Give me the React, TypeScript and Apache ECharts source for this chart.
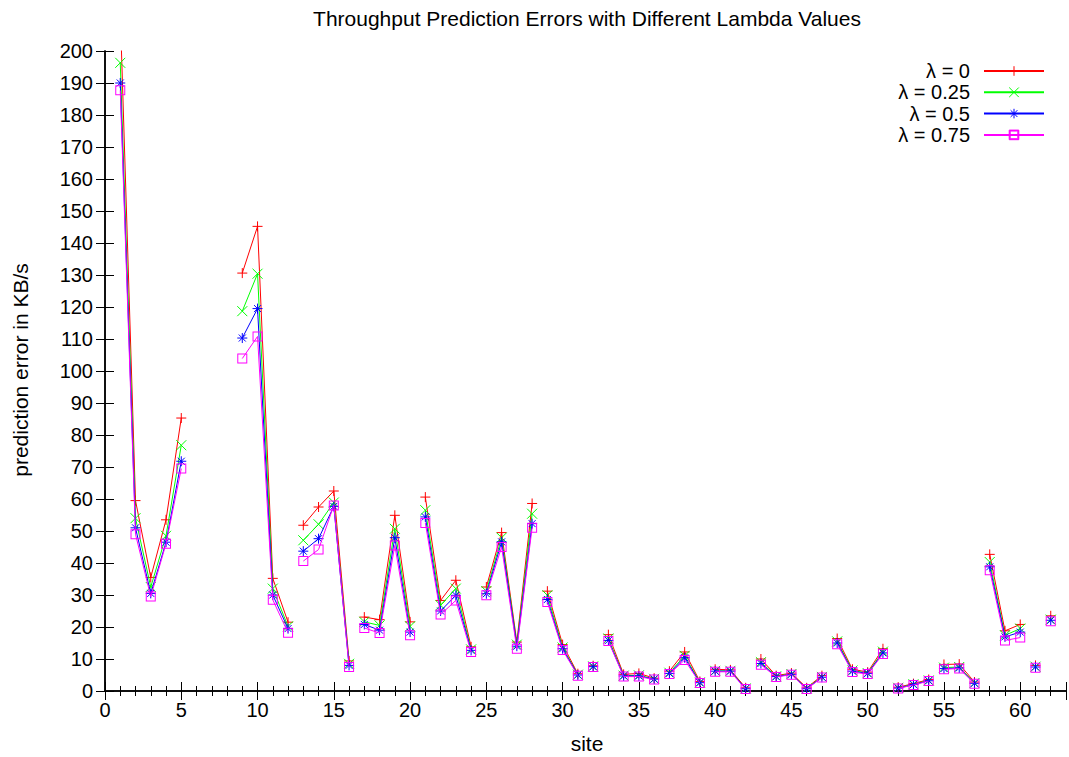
import React, { useEffect, useRef } from 'react';
import * as echarts from 'echarts';

const sites: number[] = Array.from({ length: 62 }, (_, i) => i + 1);

// prediction error (KB/s) per site, null = no measurement
const lambda0: (number | null)[] = [
  212, 59.5, 35.5, 53.5, 85.3, null, null, null, 130.6, 145.2,
  35.2, 21.5, 51.8, 57.5, 62.5, 9.4, 23.1, 22.3, 54.9, 21.6,
  60.6, 28.3, 34.6, 13.8, 32.5, 49.5, 15.3, 58.6, 31.2, 14.5,
  5.4, 7.9, 17.6, 5.2, 5.5, 4.0, 6.2, 12.2, 3.0, 6.8,
  6.6, 1.0, 10.0, 4.8, 5.6, 1.0, 4.8, 16.4, 6.8, 5.9,
  13.2, 1.2, 2.3, 3.6, 8.3, 8.4, 2.8, 42.7, 18.8, 20.8,
  8.0, 23.5,
];
const lambda025: (number | null)[] = [
  196.3, 54, 32.5, 48.5, 76.8, null, null, null, 118.7, 130.4,
  32, 20.2, 47.1, 52.1, 58.9, 8.5, 21.6, 20.5, 50.7, 20.2,
  56.5, 26.8, 32, 13, 31.2, 47.9, 14.5, 55.4, 29.9, 13.6,
  5.1, 7.7, 16.4, 4.8, 4.9, 3.8, 5.7, 11, 2.7, 6.3,
  6.3, 0.8, 9, 4.6, 5.3, 0.8, 4.4, 15.5, 6.4, 5.6,
  12.3, 1, 2.1, 3.3, 7.3, 7.5, 2.5, 40.3, 17.4, 19.5,
  7.6, 22.3,
];
const lambda05: (number | null)[] = [
  190, 51, 30.5, 46.5, 71.8, null, null, null, 110.3, 119.5,
  30, 19.5, 43.7, 47.6, 57.7, 8, 20.8, 19, 47.9, 18.4,
  54.4, 25, 29.9, 12.7, 30.4, 46.6, 14, 52.3, 28.6, 13.2,
  5, 7.6, 15.8, 4.7, 4.7, 3.7, 5.5, 10.4, 2.6, 6.2,
  6.2, 0.7, 8.6, 4.5, 5.2, 0.7, 4.3, 15, 6.2, 5.5,
  11.9, 0.9, 2, 3.2, 7, 7.2, 2.4, 38.8, 16.9, 18.4,
  7.5, 22.1,
];
const lambda075: (number | null)[] = [
  187.7, 49, 29.5, 46, 69.5, null, null, null, 103.9, 110.8,
  28.5, 18.2, 40.6, 44.2, 58, 7.5, 19.7, 18.1, 45.5, 17.4,
  52.5, 23.9, 28.3, 12.2, 29.9, 45, 13.2, 51, 27.8, 12.8,
  4.8, 7.5, 15.6, 4.5, 4.5, 3.6, 5.3, 9.7, 2.5, 6,
  6, 0.6, 8.2, 4.4, 5.1, 0.6, 4.2, 14.6, 5.9, 5.3,
  11.6, 0.8, 1.9, 3.1, 6.8, 7, 2.3, 37.7, 15.8, 16.7,
  7.3, 21.8,
];

// sites after which the plotted line is interrupted
const breakAfter: number[] = [12, 16, 20, 24, 28, 31, 32, 36, 39, 42, 47, 51, 54, 57, 60, 61];

const seriesNames = ['λ = 0', 'λ = 0.25', 'λ = 0.5', 'λ = 0.75'];
const seriesValues = [lambda0, lambda025, lambda05, lambda075];
const seriesColors = ['#ff0000', '#00ff00', '#0000ff', '#ff00ff'];

const FONT = '"Liberation Sans", Arial, Helvetica, sans-serif';

const SYM_PLUS = 'path://M0,5L10,5M5,0L5,10';
const SYM_CROSS = 'path://M0,0L10,10M10,0L0,10';
const SYM_STAR = 'path://M0,5L10,5M5,0L5,10M1.5,1.5L8.5,8.5M8.5,1.5L1.5,8.5';
const SYM_BOX = 'path://M0,0L10,0L10,10L0,10ZM1,1L1,9L9,9L9,1Z';
const symbols = [SYM_PLUS, SYM_CROSS, SYM_STAR, SYM_BOX];

function buildData(vals: (number | null)[]) {
  const out: any[] = [];
  sites.forEach((s, i) => {
    const v = vals[i];
    out.push([s, v == null ? '-' : v]);
    if (breakAfter.includes(s)) out.push([s + 0.5, '-']);
  });
  return out;
}

export default function App() {
  const ref = useRef<HTMLDivElement>(null);
  useEffect(() => {
    if (!ref.current) return;
    const chart = echarts.init(ref.current, undefined, { renderer: 'svg' });
    const axisLine = { show: true, lineStyle: { color: '#000', width: 1.5 } };
    const xCommon = {
      type: 'value',
      min: 0,
      max: 63,
      interval: 5,
      axisLine,
      axisTick: { show: true, inside: true, length: 9, lineStyle: { color: '#000', width: 1 } },
      minorTick: { show: true, splitNumber: 5, length: 5, lineStyle: { color: '#000', width: 1 } },
      splitLine: { show: false },
    };
    const yCommon = {
      type: 'value',
      min: 0,
      max: 200,
      interval: 10,
      axisLine,
      axisTick: { show: true, inside: true, length: 9, lineStyle: { color: '#000', width: 1 } },
      splitLine: { show: false },
    };
    const series = seriesNames.map((name, k) => {
      const color = seriesColors[k];
      const isBox = k === 3;
      return {
        name,
        type: 'line',
        data: buildData(seriesValues[k]),
        symbol: symbols[k],
        symbolSize: 10,
        showSymbol: true,
        showAllSymbol: true,
        connectNulls: false,
        clip: true,
        lineStyle: { color, width: 1 },
        itemStyle: isBox
          ? { color, borderColor: color, borderWidth: 0 }
          : { color, borderColor: color, borderWidth: 1 },
        emphasis: { disabled: true },
        z: 2 + k,
      };
    });
    chart.setOption({
      animation: false,
      backgroundColor: '#fff',
      grid: { left: 105, top: 51, width: 964, height: 640, containLabel: false },
      xAxis: [
        {
          ...xCommon,
          position: 'bottom',
          axisLabel: {
            show: true,
            color: '#000',
            fontSize: 20,
            fontFamily: FONT,
            margin: 9,
            formatter: (v: number) => (v % 5 === 0 ? String(v) : ''),
          },
        },
        { ...xCommon, position: 'top', axisLabel: { show: false } },
      ],
      yAxis: [
        {
          ...yCommon,
          position: 'left',
          axisLabel: { show: true, color: '#000', fontSize: 20, fontFamily: FONT, margin: 12 },
        },
        { ...yCommon, position: 'right', axisLabel: { show: false } },
      ],
      legend: {
        orient: 'vertical',
        right: 24,
        top: 61,
        align: 'right',
        itemWidth: 60,
        itemHeight: 12,
        itemGap: 1.3,
        padding: 0,
        selectedMode: false,
        textStyle: {
          fontSize: 20,
          lineHeight: 20,
          fontFamily: FONT,
          color: '#000',
          padding: [0, 9, 0, 0],
        },
        itemStyle: { borderWidth: 1 },
        data: seriesNames,
      },
      graphic: [
        {
          type: 'text',
          x: 587,
          y: 18,
          style: {
            text: 'Throughput Prediction Errors with Different Lambda Values',
            font: `21px ${FONT}`,
            fill: '#000',
            textAlign: 'center',
            textVerticalAlign: 'middle',
          },
        },
        {
          type: 'text',
          x: 587,
          y: 743,
          style: {
            text: 'site',
            font: `21px ${FONT}`,
            fill: '#000',
            textAlign: 'center',
            textVerticalAlign: 'middle',
          },
        },
        {
          type: 'text',
          x: 20,
          y: 370,
          rotation: Math.PI / 2,
          style: {
            text: 'prediction error in KB/s',
            font: `21px ${FONT}`,
            fill: '#000',
            textAlign: 'center',
            textVerticalAlign: 'middle',
          },
        },
      ],
      series,
    });
    return () => chart.dispose();
  }, []);
  return (
    <div
      ref={ref}
      style={{ position: 'absolute', left: 0, top: 0, width: 1069, height: 757 }}
    />
  );
}
